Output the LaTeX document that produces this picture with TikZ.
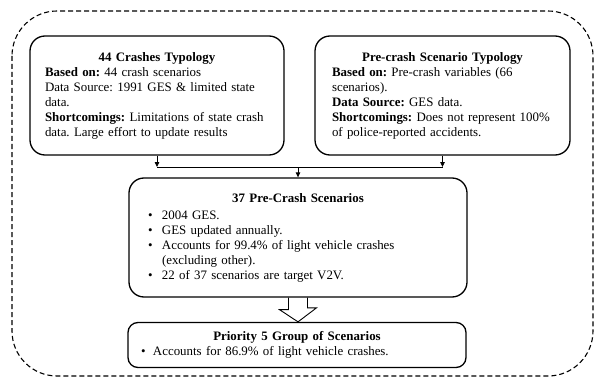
\documentclass[tikz,border=0pt]{standalone}
\usepackage{fontspec}
\setmainfont{Liberation Serif}
\usetikzlibrary{arrows.meta}
\setlength{\parindent}{0pt}
\frenchspacing
\newcommand{\blt}{\makebox[14pt][l]{\textbullet}}

\begin{document}
\begin{tikzpicture}[x=1pt,y=-1pt,
	every node/.style={font=\fontsize{12.9}{15}\selectfont},
	typebox/.style={draw, line width=1.3pt, rounded corners=15pt, align=left, inner ysep=6pt},
	conn/.style={line width=0.8pt, -{Triangle[length=5pt,width=4.5pt]}},
	link/.style={line width=0.8pt},
	hollow/.style={line width=0.9pt},
	frame/.style={line width=1.1pt, dash pattern=on 5pt off 3pt, rounded corners=45pt}]
	\useasboundingbox (0,0) rectangle (594,377);
	\draw[frame] (12,11) rectangle (593,376);

	% the two typologies
	\node[typebox, text width=224pt, inner xsep=15pt, minimum height=119pt] (crash44) at (157,95.5) {
		{\centering\textbf{44 Crashes Typology}\par}
		\textbf{Based on:} 44 crash scenarios\\
		Data Source: 1991 GES \& limited state\\
		data.\\
		\textbf{Shortcomings:} Limitations of state crash\\
		data. Large effort to update results\par\vspace{8pt}
	};
	\node[typebox, text width=221pt, inner xsep=17pt, minimum height=119pt] (precrash) at (442.5,95.5) {
		{\centering\textbf{Pre-crash Scenario Typology}\par}
		\textbf{Based on:} Pre-crash variables (66\\
		scenarios).\\
		\textbf{Data Source:} GES data.\\
		\textbf{Shortcomings:} Does not represent 100\%\\
		of police-reported accidents.\par\vspace{8pt}
	};

	% merged scenarios
	\node[typebox, text width=300pt, inner xsep=19pt, minimum height=119pt] (pcs37) at (298,237.5) {
		{\centering\textbf{37 Pre-Crash Scenarios}\par}
		\vspace{2pt}
		\blt 2004 GES.\\
		\blt GES updated annually.\\
		\blt Accounts for 99.4\% of light vehicle crashes\\
		\hspace*{14pt}(excluding other).\\
		\blt 22 of 37 scenarios are target V2V.\par\vspace{8pt}
	};
	\node[typebox, rounded corners=10pt, text width=312pt, inner xsep=13pt, minimum height=45pt] (prio5) at (297,345) {
		{\centering\textbf{Priority 5 Group of Scenarios}\par}
		\makebox[12pt][l]{\textbullet}Accounts for 86.9\% of light vehicle crashes.
	};

	% connectors
	\coordinate (join) at (298,167);
	\draw[conn] (crash44.south) -- (crash44.south |- join);
	\draw[conn] (precrash.south) -- (precrash.south |- join);
	\draw[link] (crash44.south |- join) -- (precrash.south |- join);
	\draw[conn] (join) -- (pcs37.north);

	\draw[hollow] ([xshift=-9.5pt]pcs37.south) -- ++(0,12) -- ++(-9,0) -- ([xshift=1pt]prio5.north)
		-- ++(18.5,-14) -- ++(-9,0) -- ([xshift=9.5pt]pcs37.south);
\end{tikzpicture}
\end{document}
